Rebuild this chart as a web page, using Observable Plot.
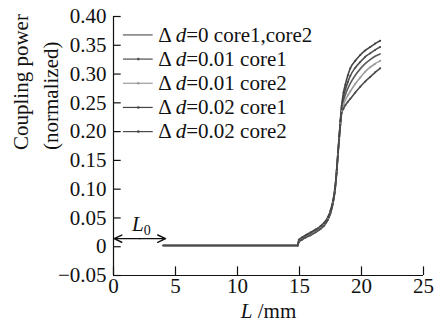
<!DOCTYPE html>
<html>
<head>
<meta charset="utf-8">
<script src="https://cdn.jsdelivr.net/npm/d3@7"></script>
<script src="https://cdn.jsdelivr.net/npm/@observablehq/plot@0.6"></script>
<style>
  html, body { margin: 0; padding: 0; background: #fff; }
  #chart { width: 442px; height: 322px; position: relative; }
</style>
</head>
<body>
<div id="chart"></div>
<script>
// ---- data ----
const seriesNames = ["Δd=0 core1,core2", "Δd=0.01 core1", "Δd=0.01 core2", "Δd=0.02 core1", "Δd=0.02 core2"];
const seriesColors = ["#5a5a5a", "#4e4e4e", "#9c9c9c", "#444444", "#4a4a4a"];
const L = [4, 14.85, 14.95, 15.2, 15.5, 15.9, 16.3, 16.7, 17.0, 17.3, 17.5, 17.7, 17.85, 18.0, 18.1, 18.2, 18.3, 18.4, 18.55, 18.7, 18.9, 19.1, 19.5, 19.9, 20.3, 20.7, 21.1, 21.5];
const d0     = [0.002, 0.002, 0.010, 0.014, 0.018, 0.022, 0.027, 0.033, 0.039, 0.049, 0.060, 0.077, 0.097, 0.131, 0.161, 0.189, 0.216, 0.239, 0.254, 0.264, 0.275, 0.284, 0.298, 0.309, 0.318, 0.325, 0.331, 0.335];
const d01c1  = [0.002, 0.002, 0.011, 0.015, 0.019, 0.023, 0.028, 0.034, 0.040, 0.050, 0.061, 0.078, 0.098, 0.132, 0.162, 0.190, 0.218, 0.242, 0.261, 0.273, 0.286, 0.297, 0.311, 0.321, 0.330, 0.336, 0.342, 0.347];
const d01c2  = [0.002, 0.002, 0.009, 0.013, 0.017, 0.021, 0.026, 0.032, 0.038, 0.048, 0.059, 0.076, 0.096, 0.130, 0.160, 0.188, 0.214, 0.236, 0.247, 0.255, 0.263, 0.270, 0.283, 0.294, 0.304, 0.312, 0.318, 0.323];
const d02c1  = [0.002, 0.002, 0.012, 0.016, 0.020, 0.025, 0.030, 0.036, 0.042, 0.052, 0.063, 0.080, 0.100, 0.134, 0.164, 0.192, 0.220, 0.245, 0.268, 0.282, 0.298, 0.310, 0.323, 0.333, 0.341, 0.347, 0.353, 0.358];
const d02c2  = [0.002, 0.002, 0.008, 0.012, 0.016, 0.020, 0.025, 0.031, 0.037, 0.047, 0.058, 0.075, 0.095, 0.129, 0.159, 0.187, 0.212, 0.232, 0.240, 0.246, 0.252, 0.257, 0.268, 0.278, 0.287, 0.295, 0.303, 0.310];
const seriesValues = [d0, d01c1, d01c2, d02c1, d02c2];
const xTicks = [0, 5, 10, 15, 20, 25];
const yTicks = [-0.05, 0, 0.05, 0.10, 0.15, 0.20, 0.25, 0.30, 0.35, 0.40];
const xLabel = "L /mm";
const yLabel1 = "Coupling power";
const yLabel2 = "(normalized)";
const L0 = 4.2;

// ---- build table ----
const rows = [];
seriesNames.forEach((s, i) => L.forEach((x, j) => rows.push({series: s, L: x, v: seriesValues[i][j]})));
const legendRows = seriesNames.map((s, i) => ({series: s, y: 0.368 - i * 0.042, marker: i > 0}));

const font = "'Liberation Serif', 'DejaVu Serif', serif";
const FS = 21;
const fmt = d => d === 0 ? "0" : d.toFixed(2).replace("-", "−");

const plot = Plot.plot({
  width: 442,
  height: 322,
  marginLeft: 113,
  marginRight: 19,
  marginTop: 16,
  marginBottom: 47,
  style: {fontFamily: font, fontSize: FS + "px", color: "#111", background: "#fff"},
  x: {domain: [0, 25]},
  y: {domain: [-0.05, 0.40]},
  color: {domain: seriesNames, range: seriesColors},
  marks: [
    // axis labels
    Plot.axisY(yTicks, {tickSize: 0, tickPadding: 7, tickFormat: fmt, fontSize: FS, label: null}),
    Plot.axisX(xTicks, {tickSize: 0, tickPadding: 3, tickFormat: d => String(d), fontSize: FS, label: null}),
    // axis lines and inward ticks
    Plot.ruleX([0], {y1: -0.05, y2: 0.40, stroke: "#111", strokeWidth: 1.2}),
    Plot.ruleY([-0.05], {x1: 0, x2: 25, stroke: "#111", strokeWidth: 1.2}),
    Plot.ruleY(yTicks, {y: d => d, x1: 0, x2: 0.62, stroke: "#111", strokeWidth: 1.2}),
    Plot.ruleX(xTicks, {x: d => d, y1: -0.05, y2: -0.035, stroke: "#111", strokeWidth: 1.2}),
    // data lines
    Plot.line(rows, {x: "L", y: "v", z: "series", stroke: "series", strokeWidth: 1.6, curve: "monotone-x"}),
    Plot.dot(rows.filter(r => r.series !== seriesNames[0] && r.L > 4), {x: "L", y: "v", fill: "series", r: 1, stroke: "none"}),
    // L0 arrow
    Plot.arrow([{x1: L0 / 2, x2: 0.05}, {x1: L0 / 2, x2: L0}], {x1: "x1", x2: "x2", y1: 0.014, y2: 0.014, stroke: "#111", strokeWidth: 1.4, headLength: 11, headAngle: 50}),
    Plot.text(["L0"], {x: 2.25, y: 0.039, className: "l0lab", fontSize: FS, fill: "#111"}),
    // legend
    Plot.ruleY(legendRows, {y: "y", x1: 0.8, x2: 3.2, stroke: "series", strokeWidth: 1.2}),
    Plot.dot(legendRows.filter(d => d.marker), {x: 2.0, y: "y", fill: "series", r: 1.3}),
    Plot.text(legendRows, {x: 3.6, y: "y", text: "series", textAnchor: "start", fontSize: FS, fill: "#111", className: "leglab"}),
    // titles
    Plot.text([xLabel], {frameAnchor: "bottom", dy: 42, fontSize: FS, fill: "#111", className: "xlab"}),
    Plot.text([yLabel1], {frameAnchor: "left", dx: -92, dy: 4, rotate: -90, fontSize: FS, fill: "#111"}),
    Plot.text([yLabel2], {frameAnchor: "left", dx: -62, dy: 4, rotate: -90, fontSize: FS, fill: "#111"})
  ]
});
document.getElementById("chart").appendChild(plot);

// rich text: italics and subscripts
const svg = d3.select(plot);
svg.selectAll("g.leglab text").each(function() {
  const t = this.textContent;
  const m = t.match(/^Δd(=.*)$/);
  if (m) {
    const el = d3.select(this);
    el.text(null);
    el.append("tspan").text("Δ ");
    el.append("tspan").attr("font-style", "italic").text("d");
    el.append("tspan").text(m[1]);
  }
});
svg.selectAll("g.l0lab text").each(function() {
  const el = d3.select(this);
  el.text(null);
  el.append("tspan").attr("font-style", "italic").text("L");
  el.append("tspan").attr("font-size", "14px").attr("dy", "0.25em").text("0");
});
svg.selectAll("g.xlab text").each(function() {
  const el = d3.select(this);
  el.text(null);
  el.append("tspan").attr("font-style", "italic").text("L");
  el.append("tspan").text(" /mm");
});
</script>
</body>
</html>
